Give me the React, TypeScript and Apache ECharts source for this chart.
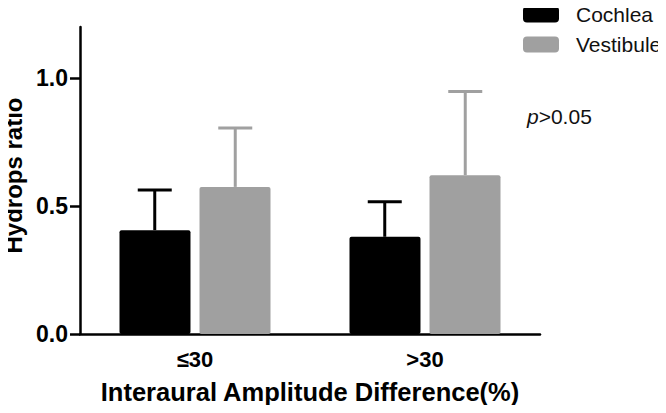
import React, { useEffect, useRef } from "react";
import * as echarts from "echarts";

const categories = ["≤30", ">30"];
const seriesNames = ["Cochlea", "Vestibule"];
const cochleaMean = [0.406, 0.38];
const cochleaUpper = [0.563, 0.517];
const vestibuleMean = [0.575, 0.621];
const vestibuleUpper = [0.805, 0.948];
const yTicks = [0, 0.5, 1.0];
const colors = ["#000000", "#a0a0a0"];

const FONT = "'Liberation Sans', Arial, sans-serif";

function errorSeries(name: string, means: number[], uppers: number[], color: string, offset: number) {
  return {
    type: "custom",
    name: name + " SD",
    z: 1,
    data: means.map((m, i) => [i, m, uppers[i]]),
    encode: { x: 0, y: 2 },
    renderItem: (params: any, api: any) => {
      const top = api.coord([api.value(0), api.value(2)]);
      const base = api.coord([api.value(0), api.value(1)]);
      const band = api.size([1, 0])[0];
      const x = top[0] + offset * band;
      const half = 17;
      return {
        type: "group",
        children: [
          {
            type: "line",
            shape: { x1: x, y1: base[1], x2: x, y2: top[1] },
            style: { stroke: color, lineWidth: 3 },
          },
          {
            type: "line",
            shape: { x1: x - half, y1: top[1], x2: x + half, y2: top[1] },
            style: { stroke: color, lineWidth: 3 },
          },
        ],
      };
    },
  };
}

export default function App() {
  const ref = useRef<HTMLDivElement>(null);
  useEffect(() => {
    if (!ref.current) return;
    const chart = echarts.init(ref.current, null, { renderer: "svg" });
    chart.setOption({
      animation: false,
      textStyle: { fontFamily: FONT },
      grid: { left: 80, right: 126, top: 27, bottom: 79, containLabel: false, outerBoundsMode: "none" },
      legend: {
        data: seriesNames,
        orient: "vertical",
        left: 523,
        top: 4,
        padding: 0,
        itemWidth: 36,
        itemHeight: 16,
        itemGap: 9,
        icon: "roundRect",
        selectedMode: false,
        textStyle: {
          fontFamily: FONT,
          fontSize: 21,
          color: "#111",
          lineHeight: 16,
          padding: [0, 0, 0, 12],
        },
      },
      xAxis: {
        type: "category",
        data: categories,
        name: "Interaural Amplitude Difference(%)",
        nameLocation: "middle",
        nameGap: 45,
        nameTextStyle: { fontFamily: FONT, fontSize: 25.5, fontWeight: "bold", color: "#000" },
        axisLine: { lineStyle: { color: "#000", width: 2.5 } },
        axisTick: { alignWithLabel: true, length: 8, lineStyle: { color: "#000", width: 2.5 } },
        axisLabel: { margin: 14, fontFamily: FONT, fontSize: 22, fontWeight: "bold", color: "#000" },
      },
      yAxis: {
        type: "value",
        min: 0,
        max: 1.2,
        interval: 0.5,
        name: "Hydrops ratio",
        nameLocation: "middle",
        nameGap: 50,
        nameTextStyle: { fontFamily: FONT, fontSize: 24, fontWeight: "bold", color: "#000", padding: [0, 0, 0, 10] },
        splitLine: { show: false },
        axisLine: { show: true, lineStyle: { color: "#000", width: 2.5 } },
        axisTick: { show: true, length: 10, customValues: yTicks, lineStyle: { color: "#000", width: 2.5 } },
        axisLabel: {
          margin: 12,
          customValues: yTicks,
          fontFamily: FONT,
          fontSize: 23,
          fontWeight: "bold",
          color: "#000",
          formatter: (v: number) => v.toFixed(1),
        },
      },
      series: [
        {
          type: "bar",
          name: seriesNames[0],
          data: cochleaMean,
          barWidth: 71,
          barGap: "12.7%",
          itemStyle: { color: colors[0], borderRadius: 2 },
          z: 2,
        },
        {
          type: "bar",
          name: seriesNames[1],
          data: vestibuleMean,
          barWidth: 71,
          barGap: "12.7%",
          itemStyle: { color: colors[1], borderRadius: 2 },
          z: 2,
        },
        errorSeries(seriesNames[0], cochleaMean, cochleaUpper, colors[0], -40.25 / 230),
        errorSeries(seriesNames[1], vestibuleMean, vestibuleUpper, colors[1], 40.25 / 230),
      ],
      graphic: [
        {
          type: "text",
          left: 527,
          top: 106,
          style: {
            text: "{i|p}>0.05",
            font: `21px ${FONT}`,
            fill: "#111",
            rich: {
              i: { fontStyle: "italic", fontSize: 21, fontFamily: FONT, fill: "#111" },
            },
          },
        },
      ],
    });
    return () => chart.dispose();
  }, []);
  return <div ref={ref} style={{ width: 666, height: 413, margin: -8 }} />;
}
